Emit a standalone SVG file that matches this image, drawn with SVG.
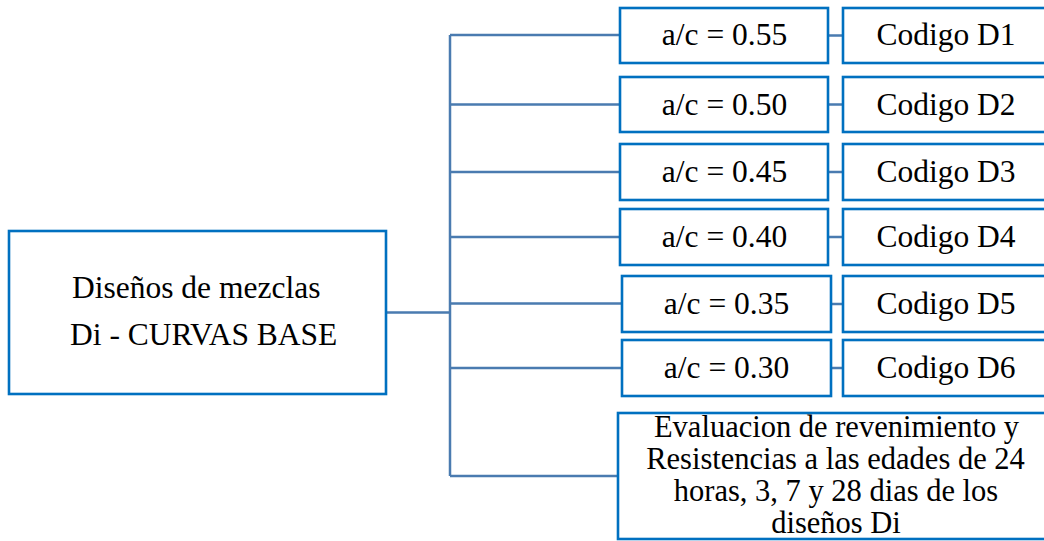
<svg xmlns="http://www.w3.org/2000/svg" width="1044" height="541" viewBox="0 0 1044 541">
<style>
.box{fill:#fff;stroke:#0070C0;stroke-width:2.6}
.t{font-family:"Liberation Serif","Times New Roman",serif;font-size:31.5px;fill:#000}
.e{font-size:30.5px}
.c{text-anchor:middle}
.conn{fill:none;stroke:#4A7BB0;stroke-width:2.5}
</style>
<rect width="1044" height="541" fill="#fff"/>
<g id="connectors">
<path class="conn" d="M386 312.5H450 M450 35V476 M450 35H620 M450 104.5H620 M450 172H620 M450 237H620 M450 303.5H622 M450 368H622 M450 476H618"/>
<path class="conn" d="M828 35.5H843 M828 104.5H843 M828 172H843 M828 237H843 M831 304H843 M831 368H843"/>
</g>
<g id="main">
<rect class="box" x="9" y="231" width="377" height="163"/>
<text class="t" x="72" y="298">Diseños de mezclas</text>
<text class="t" x="70" y="345">Di - CURVAS BASE</text>
</g>
<g id="ac1"><rect class="box" x="620" y="8" width="208" height="55"/><text class="t c" x="724.5" y="45">a/c = 0.55</text></g>
<g id="cod1"><rect class="box" x="843" y="8" width="210" height="55"/><text class="t c" x="946" y="45">Codigo D1</text></g>
<g id="ac2"><rect class="box" x="620" y="77" width="208" height="55"/><text class="t c" x="724.5" y="114.5">a/c = 0.50</text></g>
<g id="cod2"><rect class="box" x="843" y="77" width="210" height="55"/><text class="t c" x="946" y="114.5">Codigo D2</text></g>
<g id="ac3"><rect class="box" x="620" y="144" width="208" height="56"/><text class="t c" x="724.5" y="182">a/c = 0.45</text></g>
<g id="cod3"><rect class="box" x="843" y="144" width="210" height="56"/><text class="t c" x="946" y="182">Codigo D3</text></g>
<g id="ac4"><rect class="box" x="620" y="209" width="208" height="56"/><text class="t c" x="724.5" y="247">a/c = 0.40</text></g>
<g id="cod4"><rect class="box" x="843" y="209" width="210" height="56"/><text class="t c" x="946" y="247">Codigo D4</text></g>
<g id="ac5"><rect class="box" x="622" y="276" width="209" height="56"/><text class="t c" x="726.5" y="314">a/c = 0.35</text></g>
<g id="cod5"><rect class="box" x="843" y="276" width="210" height="56"/><text class="t c" x="946" y="314">Codigo D5</text></g>
<g id="ac6"><rect class="box" x="622" y="340" width="209" height="56"/><text class="t c" x="726.5" y="378">a/c = 0.30</text></g>
<g id="cod6"><rect class="box" x="843" y="340" width="210" height="56"/><text class="t c" x="946" y="378">Codigo D6</text></g>
<g id="eval">
<rect class="box" x="618" y="413" width="440" height="126"/>
<text class="t c e" x="836.5" y="437">Evaluacion de revenimiento y</text>
<text class="t c e" x="835.5" y="469">Resistencias a las edades de 24</text>
<text class="t c e" x="836" y="501">horas, 3, 7 y 28 dias de los</text>
<text class="t c e" x="836" y="533">diseños Di</text>
</g>
</svg>
